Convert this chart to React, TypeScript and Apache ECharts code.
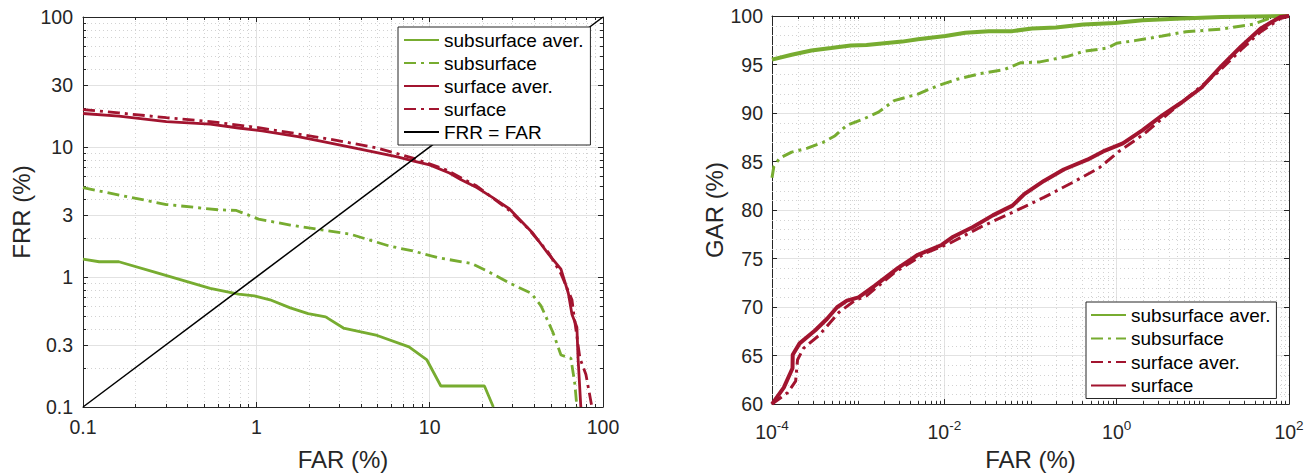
import React, { useEffect, useRef } from "react";
import * as echarts from "echarts";

const GREEN = "#77AC30";
const RED = "#A2142F";
const AXIS = "#262626";
const FONT = "'Liberation Sans', Arial, Helvetica, sans-serif";

// ---------- Left plot: FRR (%) vs FAR (%) ----------
const detSubAver: [number, number][] = [
  [0.1, 1.37], [0.124, 1.31], [0.161, 1.31], [0.259, 1.09], [0.542, 0.818], [0.789, 0.737],
  [0.974, 0.716], [1.2, 0.668], [1.57, 0.579], [1.99, 0.522], [2.51, 0.493], [3.18, 0.405],
  [4.98, 0.355], [7.6, 0.29], [9.64, 0.23], [11.6, 0.145], [20.7, 0.145], [23.3, 0.1],
];
const detSub: [number, number][] = [
  [0.1, 4.87], [0.137, 4.47], [0.188, 4.1], [0.303, 3.61], [0.463, 3.41], [0.6, 3.29],
  [0.767, 3.25], [1.03, 2.79], [1.57, 2.51], [2.39, 2.3], [3.46, 2.14], [5.86, 1.73],
  [8.1, 1.58], [11.1, 1.41], [17.4, 1.27], [22.1, 1.09], [28.8, 0.9], [38.5, 0.75],
  [43.9, 0.6], [51.4, 0.376], [57.2, 0.251], [65.3, 0.237], [68.8, 0.15], [70.7, 0.1],
];
const detSurfAver: [number, number][] = [
  [0.1, 18.1], [0.161, 17.3], [0.303, 15.7], [0.542, 15], [0.789, 14], [1.08, 13.3],
  [1.74, 12], [2.51, 10.9], [3.84, 9.7], [6.52, 8.41], [8.1, 7.8], [10, 7.29], [13, 6.31],
  [15.1, 5.62], [18.7, 4.87], [23, 4.1], [28.8, 3.35], [39.3, 2.18], [48.5, 1.5],
  [57.2, 1.15], [63.1, 0.75], [66.2, 0.516], [70.7, 0.41], [71.8, 0.237], [74.5, 0.1],
];
const detSurf: [number, number][] = [
  [0.1, 19.4], [0.161, 18.3], [0.303, 16.8], [0.542, 15.7], [1.03, 14.1], [1.74, 12.6],
  [2.95, 11.2], [4.98, 9.83], [8.1, 8.18], [12.4, 6.68], [18.7, 5.01], [28.8, 3.25],
  [36.9, 2.37], [48.5, 1.54], [57.2, 1.06], [66.2, 0.668], [68.1, 0.5], [73.6, 0.237],
  [79.7, 0.178], [86.3, 0.1],
];
const detEqual: [number, number][] = [[0.1, 0.1], [100, 100]];

// ---------- Right plot: GAR (%) vs FAR (%) ----------
const rocSubAver: [number, number][] = [
  [1e-4, 95.5], [1.69e-4, 96.0], [2.87e-4, 96.45], [4.85e-4, 96.7], [8.2e-4, 96.96],
  [1.25e-3, 97.0], [3.24e-3, 97.36], [4.93e-3, 97.6], [0.0103, 97.94], [0.0175, 98.28],
  [0.0328, 98.44], [0.0617, 98.44], [0.104, 98.72], [0.197, 98.82], [0.411, 99.12],
  [0.955, 99.29], [2.0, 99.56], [5.7, 99.73], [16.4, 99.9], [100, 100],
];
const rocSub: [number, number][] = [
  [1e-4, 83.33], [1.05e-4, 84.5], [1.23e-4, 85.36], [1.69e-4, 85.97], [2.58e-4, 86.38],
  [3.93e-4, 86.98], [5.4e-4, 87.66], [7.4e-4, 88.74], [1.13e-3, 89.35], [1.72e-3, 90.09],
  [2.62e-3, 91.28], [4.93e-3, 91.95], [8.3e-3, 92.8], [0.0141, 93.48], [0.0266, 94.08],
  [0.05, 94.49], [0.0762, 95.17], [0.129, 95.27], [0.27, 95.84], [0.411, 96.35],
  [0.773, 96.69], [1, 97.19], [1.62, 97.46], [3.38, 97.94], [6.36, 98.38], [16.4, 98.65],
  [38.1, 99.15], [58, 99.73], [100, 100],
];
const rocSurfAver: [number, number][] = [
  [1e-4, 60], [1.52e-4, 61.18], [1.88e-4, 62.37], [1.98e-4, 64.57], [2.32e-4, 65.75],
  [3.54e-4, 67.11], [6e-4, 69.47], [9.1e-4, 70.66], [1.25e-3, 71.16], [2.62e-3, 73.53],
  [6.08e-3, 75.56], [0.0115, 76.57], [0.0266, 78.26], [0.0686, 79.95], [0.143, 81.3],
  [0.333, 83.0], [0.627, 84.35], [1.06, 86.04], [2.0, 87.73], [4.17, 90.1], [7.85, 92.12],
  [14.8, 94.15], [27.8, 96.52], [47, 98.38], [79.6, 99.73], [100, 100],
];
const rocSurf: [number, number][] = [
  [1e-4, 60], [1.37e-4, 61.7], [1.73e-4, 63.7], [1.74e-4, 65.08], [2.09e-4, 66.26],
  [3.18e-4, 67.61], [4.36e-4, 68.8], [5.69e-4, 69.98], [7.4e-4, 70.66], [1.01e-3, 71.0],
  [1.55e-3, 72.18], [2.91e-3, 74.04], [4.93e-3, 75.39], [9.3e-3, 76.4], [0.0127, 77.25],
  [0.0215, 78.26], [0.0365, 79.45], [0.0617, 80.46], [0.0847, 81.64], [0.143, 83.0],
  [0.243, 84.18], [0.457, 85.19], [0.697, 86.04], [1.18, 86.88], [2.0, 88.24],
  [3.38, 89.76], [5.72, 91.11], [9.68, 92.63], [16.4, 94.83], [27.8, 96.86], [47, 98.72],
  [79.6, 99.9], [100, 100],
];

// ---------- Ticks ----------
const detXTicks = [0.1, 1, 10, 100];
const detYTicks = [0.1, 0.3, 1, 3, 10, 30, 100];
const detXMinor = [0.2, 0.3, 0.4, 0.5, 0.6, 0.7, 0.8, 0.9, 2, 3, 4, 5, 6, 7, 8, 9, 20, 30, 40, 50, 60, 70, 80, 90];
const detYMinor = [0.2, 0.4, 0.5, 0.6, 0.7, 0.8, 0.9, 2, 4, 5, 6, 7, 8, 9, 20, 40, 50, 60, 70, 80, 90];
const rocXTicks = [1e-4, 1e-2, 1, 100];
const rocDecades = [1e-4, 1e-3, 1e-2, 1e-1, 1, 10];
const rocXMinor = rocDecades.flatMap((d, i) => {
  const sub = [2, 3, 4, 5, 6, 7, 8, 9].map((k) => k * d);
  return i % 2 === 1 ? [d, ...sub] : sub;
});
const rocYMinor = [61, 62, 63, 64, 66, 67, 68, 69, 71, 72, 73, 74, 76, 77, 78, 79, 81, 82, 83, 84, 86, 87, 88, 89, 91, 92, 93, 94, 96, 97, 98, 99];

const MINOR_GRID = "#d2d2d2";
const MAJOR_GRID = "#e2e2e2";

function minorRenderer(dir: "x" | "y", tickLen: number) {
  return (params: any, api: any) => {
    const cs = params.coordSys;
    const p = api.coord([api.value(0), api.value(1)]);
    const children: any[] = [];
    const gridStyle = { stroke: MINOR_GRID, lineWidth: 1, lineDash: [1, 3] };
    const tickStyle = { stroke: AXIS, lineWidth: 1 };
    if (dir === "x") {
      const x = Math.round(p[0]) + 0.5;
      const top = cs.y, bot = cs.y + cs.height;
      children.push({ type: "line", shape: { x1: x, y1: top, x2: x, y2: bot }, style: gridStyle });
      if (tickLen) {
        children.push({ type: "line", shape: { x1: x, y1: bot, x2: x, y2: bot - tickLen }, style: tickStyle });
        children.push({ type: "line", shape: { x1: x, y1: top, x2: x, y2: top + tickLen }, style: tickStyle });
      }
    } else {
      const y = Math.round(p[1]) + 0.5;
      const l = cs.x, r = cs.x + cs.width;
      children.push({ type: "line", shape: { x1: l, y1: y, x2: r, y2: y }, style: gridStyle });
      if (tickLen) {
        children.push({ type: "line", shape: { x1: l, y1: y, x2: l + tickLen, y2: y }, style: tickStyle });
        children.push({ type: "line", shape: { x1: r, y1: y, x2: r - tickLen, y2: y }, style: tickStyle });
      }
    }
    return { type: "group", children };
  };
}

const fmtNum = (v: number) => String(Number(Number(v).toPrecision(3)));

const tickLabel = { fontSize: 19.5, color: AXIS, fontFamily: FONT };
const nameStyle = { fontSize: 24, color: AXIS, fontFamily: FONT };
const axisLine = { show: true, onZero: false, lineStyle: { color: AXIS, width: 1 } };

function decorAxis(base: any, position: string, ticks?: number[]) {
  return {
    ...base,
    position,
    name: "",
    axisLine,
    axisLabel: { show: false },
    splitLine: { show: false },
    axisTick: ticks
      ? { show: true, inside: true, length: 5, lineStyle: { color: AXIS }, customValues: ticks }
      : { show: true, inside: true, length: 5, lineStyle: { color: AXIS } },
  };
}

const DASHDOT = [12, 5, 3, 5];

function lineSeries(name: string, data: [number, number][], color: string, width: number, dash: any, axisIdx: number) {
  return {
    type: "line",
    name,
    data,
    xAxisIndex: axisIdx,
    yAxisIndex: axisIdx,
    symbol: "none",
    showSymbol: false,
    z: 3,
    clip: true,
    itemStyle: { color },
    lineStyle: { color, width, type: dash },
  };
}

export default function App() {
  const ref = useRef<HTMLDivElement>(null);
  useEffect(() => {
    if (!ref.current) return;
    const chart = echarts.init(ref.current, undefined, { renderer: "svg" });

    const detX = { type: "log", logBase: 10, min: 0.1, max: 100, gridIndex: 0 };
    const detY = { type: "log", logBase: 10, min: 0.1, max: 100, gridIndex: 0 };
    const rocX = { type: "log", logBase: 10, min: 1e-4, max: 100, gridIndex: 1 };
    const rocY = { type: "value", min: 60, max: 100, interval: 5, gridIndex: 1 };

    const option: any = {
      animation: false,
      backgroundColor: "#ffffff",
      textStyle: { fontFamily: FONT },
      grid: [
        { left: 83, top: 17, width: 520, height: 400 },
        { left: 772, top: 16, width: 517, height: 393 },
      ],
      xAxis: [
        {
          ...detX,
          position: "bottom",
          name: "FAR (%)",
          nameLocation: "middle",
          nameGap: 40,
          nameTextStyle: nameStyle,
          axisLine,
          axisTick: { show: true, inside: true, length: 5, lineStyle: { color: AXIS }, customValues: detXTicks },
          axisLabel: { ...tickLabel, margin: 10, customValues: detXTicks, formatter: (v: number) => fmtNum(v) },
          splitLine: { show: true, lineStyle: { color: MAJOR_GRID, width: 1 } },
        },
        decorAxis(detX, "top", detXTicks),
        {
          ...rocX,
          position: "bottom",
          name: "FAR (%)",
          nameLocation: "middle",
          nameGap: 40,
          nameTextStyle: nameStyle,
          axisLine,
          axisTick: { show: true, inside: true, length: 5, lineStyle: { color: AXIS }, customValues: rocXTicks },
          axisLabel: {
            ...tickLabel,
            margin: 14,
            customValues: rocXTicks,
            formatter: (v: number) => `{b|10}{s|${Math.round(Math.log10(v))}}`,
            rich: {
              b: { fontSize: 19.5, color: AXIS, fontFamily: FONT, lineHeight: 24, verticalAlign: "bottom" },
              s: { fontSize: 13.5, color: AXIS, fontFamily: FONT, lineHeight: 12, verticalAlign: "top" },
            },
          },
          splitLine: { show: true, lineStyle: { color: MAJOR_GRID, width: 1 } },
        },
        decorAxis(rocX, "top", rocXTicks),
      ],
      yAxis: [
        {
          ...detY,
          position: "left",
          name: "FRR (%)",
          nameLocation: "middle",
          nameGap: 50,
          nameTextStyle: nameStyle,
          axisLine,
          axisTick: { show: true, inside: true, length: 5, lineStyle: { color: AXIS }, customValues: detYTicks },
          axisLabel: { ...tickLabel, margin: 10, customValues: detYTicks, formatter: (v: number) => fmtNum(v) },
          splitLine: { show: true, lineStyle: { color: MAJOR_GRID, width: 1 } },
        },
        decorAxis(detY, "right", detYTicks),
        {
          ...rocY,
          position: "left",
          name: "GAR (%)",
          nameLocation: "middle",
          nameGap: 46,
          nameTextStyle: nameStyle,
          axisLine,
          axisTick: { show: true, inside: true, length: 5, lineStyle: { color: AXIS } },
          axisLabel: { ...tickLabel, margin: 9 },
          splitLine: { show: true, lineStyle: { color: MAJOR_GRID, width: 1 } },
        },
        decorAxis(rocY, "right"),
      ],
      legend: [
        {
          orient: "vertical",
          left: 398,
          top: 27,
          padding: [3, 7, 3, 5],
          itemGap: 3,
          itemWidth: 35,
          itemHeight: 20,
          backgroundColor: "#ffffff",
          borderColor: AXIS,
          borderWidth: 1,
          borderRadius: 0,
          selectedMode: false,
          itemStyle: { opacity: 0 },
          textStyle: { fontSize: 19, color: "#000", fontFamily: FONT, lineHeight: 20 },
          data: ["subsurface aver.", "subsurface", "surface aver.", "surface", "FRR = FAR"],
        },
        {
          orient: "vertical",
          left: 1086,
          top: 302,
          padding: [3, 6, 3, 4],
          itemGap: 3.5,
          itemWidth: 35,
          itemHeight: 20,
          backgroundColor: "#ffffff",
          borderColor: AXIS,
          borderWidth: 1,
          borderRadius: 0,
          selectedMode: false,
          itemStyle: { opacity: 0 },
          textStyle: { fontSize: 19, color: "#000", fontFamily: FONT, lineHeight: 20 },
          formatter: (name: string) => name.replace(/^R:/, ""),
          data: ["R:subsurface aver.", "R:subsurface", "R:surface aver.", "R:surface"],
        },
      ],
      series: [
        { type: "custom", xAxisIndex: 0, yAxisIndex: 0, z: 1, silent: true, clip: false, data: detXMinor.map((v) => [v, 1]), renderItem: minorRenderer("x", 3) },
        { type: "custom", xAxisIndex: 0, yAxisIndex: 0, z: 1, silent: true, clip: false, data: detYMinor.map((v) => [1, v]), renderItem: minorRenderer("y", 3) },
        { type: "custom", xAxisIndex: 2, yAxisIndex: 2, z: 1, silent: true, clip: false, data: rocXMinor.map((v) => [v, 80]), renderItem: minorRenderer("x", 3) },
        { type: "custom", xAxisIndex: 2, yAxisIndex: 2, z: 1, silent: true, clip: false, data: rocYMinor.map((v) => [1, v]), renderItem: minorRenderer("y", 0) },

        lineSeries("subsurface aver.", detSubAver, GREEN, 2.8, "solid", 0),
        lineSeries("subsurface", detSub, GREEN, 2.8, DASHDOT, 0),
        lineSeries("surface aver.", detSurfAver, RED, 2.8, "solid", 0),
        lineSeries("surface", detSurf, RED, 2.8, DASHDOT, 0),
        lineSeries("FRR = FAR", detEqual, "#000000", 1.5, "solid", 0),

        lineSeries("R:subsurface aver.", rocSubAver, GREEN, 4, "solid", 2),
        lineSeries("R:subsurface", rocSub, GREEN, 3, DASHDOT, 2),
        lineSeries("R:surface aver.", rocSurfAver, RED, 3, DASHDOT, 2),
        lineSeries("R:surface", rocSurf, RED, 4, "solid", 2),
      ],
    };
    chart.setOption(option);
    return () => chart.dispose();
  }, []);
  return (
    <div
      ref={ref}
      style={{ position: "absolute", left: 0, top: 0, width: 1307, height: 476, background: "#fff" }}
    />
  );
}
